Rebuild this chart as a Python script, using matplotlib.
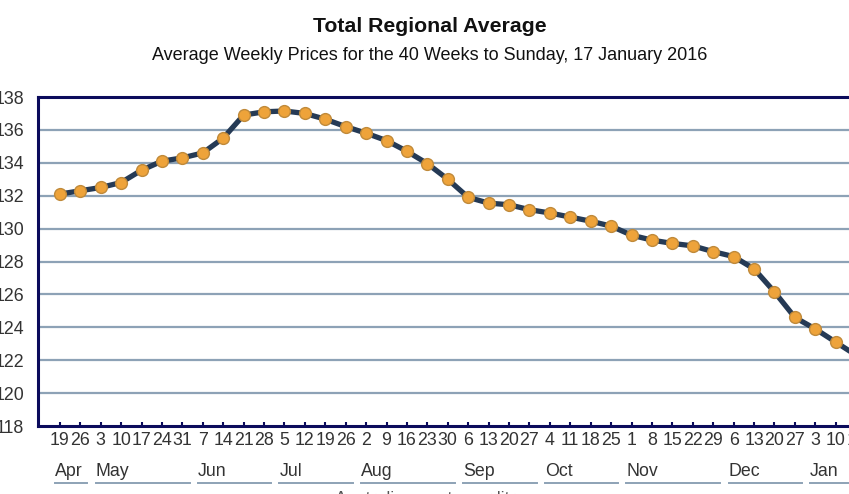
import matplotlib.pyplot as plt
import matplotlib.transforms as mtransforms

plt.rcParams['font.family'] = ['Liberation Sans', 'DejaVu Sans']

# week ending days (Sunday) and their month
week_days = [19, 26, 3, 10, 17, 24, 31, 7, 14, 21, 28, 5, 12, 19, 26, 2, 9, 16, 23, 30,
             6, 13, 20, 27, 4, 11, 18, 25, 1, 8, 15, 22, 29, 6, 13, 20, 27, 3, 10, 17]
months = ['Apr', 'May', 'Jun', 'Jul', 'Aug', 'Sep', 'Oct', 'Nov', 'Dec', 'Jan']
prices = [132.1, 132.3, 132.5, 132.8, 133.55, 134.1, 134.3, 134.6, 135.5, 136.9,
          137.1, 137.15, 137.0, 136.65, 136.2, 135.8, 135.35, 134.7, 133.95, 133.0,
          131.9, 131.55, 131.45, 131.15, 130.95, 130.7, 130.45, 130.15, 129.6, 129.3,
          129.1, 128.95, 128.6, 128.3, 127.55, 126.15, 124.6, 123.9, 123.1, 122.3]

navy = '#0b0b5c'
grid_col = '#8da2b6'
fs = 12.8

fig = plt.figure(figsize=(8.49, 4.94), dpi=100)
ax = fig.add_axes([38 / 849, 68 / 494, 840 / 849, 329 / 494])

x = list(range(len(prices)))
ax.plot(x, prices, color='#253a55', lw=3.8, zorder=3, solid_capstyle='round')
ax.plot(x, prices, ls='none', marker='o', ms=8.5, mfc='#eea33a', mec='#c08a3a',
        mew=1.0, zorder=4)

ax.set_xlim(-1.07, len(prices) - 1 + 1.07)
ax.set_ylim(118, 138)
ax.set_yticks(range(118, 139, 2))
ax.set_xticks(x)
ax.set_xticklabels([])
for yv in range(120, 138, 2):
    ax.axhline(yv, color=grid_col, lw=1.6, zorder=1)

for side in ['top', 'left', 'bottom']:
    ax.spines[side].set_color(navy)
    ax.spines[side].set_linewidth(2.2)
ax.spines['right'].set_visible(False)
ax.tick_params(axis='y', length=0, pad=10, labelsize=fs, labelcolor='#333333')
ax.tick_params(axis='x', direction='in', length=3, width=1.5, color=navy)

trans = mtransforms.blended_transform_factory(ax.transData, ax.transAxes)

# day labels
for i, d in enumerate(week_days):
    ax.text(i, -0.043, str(d), transform=trans, ha='center', va='center',
            fontsize=fs, color='#333333', clip_on=False)

# month labels with underlines
starts = [0] + [i for i in range(1, len(week_days)) if week_days[i] < week_days[i - 1]]
ends = starts[1:] + [len(week_days)]
for m, s, e in zip(months, starts, ends):
    ax.text(s - 0.25, -0.137, m, transform=trans, ha='left', va='center',
            fontsize=fs, color='#333333', clip_on=False)
    ax.plot([s - 0.25, e - 1 + 0.35], [-0.172, -0.172], transform=trans,
            color=grid_col, lw=1.4, clip_on=False)

fig.text(430 / 849, 1 - 26 / 494, 'Total Regional Average', ha='center', va='center',
         fontsize=15.3, fontweight='bold', color='#111111')
fig.text(430 / 849, 1 - 55 / 494,
         'Average Weekly Prices for the 40 Weeks to Sunday, 17 January 2016',
         ha='center', va='center', fontsize=13, color='#111111')
fig.text(430 / 849, 1 - 491 / 494, 'Australian cents per litre', ha='center', va='top',
         fontsize=fs, color='#555555')

fig.savefig('out.png', dpi=100)
